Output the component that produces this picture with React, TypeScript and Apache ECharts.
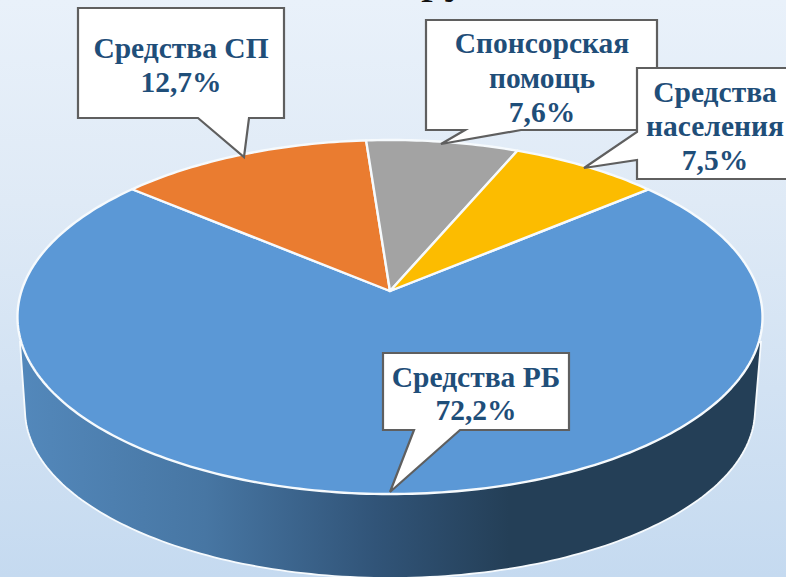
import React, { useEffect, useRef } from "react";
import * as echarts from "echarts";

const categories = ["Средства РБ", "Средства СП", "Спонсорская\nпомощь", "Средства\nнаселения"];
const shares = [72.2, 12.7, 7.6, 7.5];
const sliceColors = ["#5b98d6", "#ea7c30", "#a3a3a3", "#fcbc00"];

const W = 786;
const H = 577;
const START_DEG = 50.1;
const CX = 390;
const APEX_Y = 291;
const RX = 368.5;
const RY = 173.2;
const PERSPECTIVE = 0.147;

function project(deg: number): number[] {
  const t = (deg * Math.PI) / 180;
  const u = Math.sin(t);
  const v = Math.cos(t);
  const w = 1 + PERSPECTIVE * v;
  return [CX + (RX * u) / w, APEX_Y - (RY * v) / w];
}

function wallPoints(): number[][] {
  const pts: number[][] = [[761, 342]];
  const cy = 410;
  const rx = 365;
  const ry = 168;
  for (let a = 2.5; a <= 177.5; a += 1.25) {
    const t = (a * Math.PI) / 180;
    pts.push([CX + rx * Math.cos(t), cy + ry * Math.sin(t)]);
  }
  pts.push([20, 342]);
  return pts;
}

const calloutBoxes = [
  { i: 1, cx: 181, y: [48, 82], pts: [[78, 8], [284, 8], [284, 118], [249, 118], [244, 157], [198, 118], [78, 118]] },
  { i: 2, cx: 542, y: [43, 78, 112], pts: [[426, 20], [657, 20], [657, 130], [521, 130], [441, 144], [465, 130], [426, 130]] },
  { i: 3, cx: 715, y: [92, 126, 160], pts: [[637, 68], [792, 68], [792, 179], [637, 179], [637, 160], [584, 168], [637, 132]] },
  { i: 0, cx: 476, y: [377, 410], pts: [[383, 353], [569, 353], [569, 430], [460, 430], [390, 492], [414, 430], [383, 430]] },
];

function formatShare(v: number): string {
  return v.toFixed(1).replace(".", ",") + "%";
}

export default function App() {
  const ref = useRef<HTMLDivElement>(null);
  useEffect(() => {
    const chart = echarts.init(ref.current!, undefined, { renderer: "svg" });
    const total = shares.reduce((a, b) => a + b, 0);

    const renderItem = (params: any, api: any) => {
      const idx = params.dataIndex;
      let before = 0;
      for (let k = 0; k < idx; k++) before += shares[k];
      const value = api.value(0) as number;
      const a0 = START_DEG + (before / total) * 360;
      const a1 = a0 + (value / total) * 360;
      const pts: number[][] = [[CX, APEX_Y]];
      for (let a = a0; a < a1; a += 1) pts.push(project(a));
      pts.push(project(a1));
      const top = {
        type: "polygon",
        shape: { points: pts },
        style: { fill: sliceColors[idx], stroke: "#f6fafd", lineWidth: 2.4, lineJoin: "round" },
      };
      if (idx !== 0) return top;
      return {
        type: "group",
        children: [
          {
            type: "polygon",
            shape: { points: wallPoints() },
            style: {
              fill: new echarts.graphic.LinearGradient(0, 0, 1, 0, [
                { offset: 0, color: "#5388bb" },
                { offset: 0.25, color: "#4776a3" },
                { offset: 0.48, color: "#315478" },
                { offset: 0.66, color: "#243f57" },
                { offset: 1, color: "#243f57" },
              ]),
              stroke: "#f6fafd",
              lineWidth: 1.8,
            },
          },
          top,
        ],
      };
    };

    const graphics: any[] = [
      {
        type: "text",
        z: 50,
        x: 421,
        y: -49,
        style: { text: "ру", font: "48px 'Liberation Serif'", fill: "#111111" },
      },
    ];
    calloutBoxes.forEach((box, order) => {
      graphics.push({
        type: "polygon",
        z: 60 + order * 2,
        shape: { points: box.pts },
        style: { fill: "#ffffff", stroke: "#5f5f5f", lineWidth: 2.2 },
      });
      const lines = [...categories[box.i].split("\n"), formatShare(shares[box.i])];
      lines.forEach((line, k) => {
        graphics.push({
          type: "text",
          z: 61 + order * 2,
          x: box.cx,
          y: box.y[k],
          style: {
            text: line,
            font: "bold 29.5px 'Liberation Serif'",
            fill: "#1f4e79",
            align: "center",
            verticalAlign: "middle",
          },
        });
      });
    });

    chart.setOption({
      animation: false,
      backgroundColor: "transparent",
      series: [
        {
          type: "custom",
          coordinateSystem: "none",
          silent: true,
          renderItem,
          data: shares.map((v, i) => ({ name: categories[i], value: [v] })),
        },
      ],
      graphic: graphics,
    });
    return () => chart.dispose();
  }, []);
  return (
    <div
      ref={ref}
      style={{
        position: "absolute",
        left: 0,
        top: 0,
        width: W,
        height: H,
        background: "linear-gradient(180deg, #e9f1fa 0%, #dfeaf6 35%, #c5daf0 100%)",
      }}
    />
  );
}
